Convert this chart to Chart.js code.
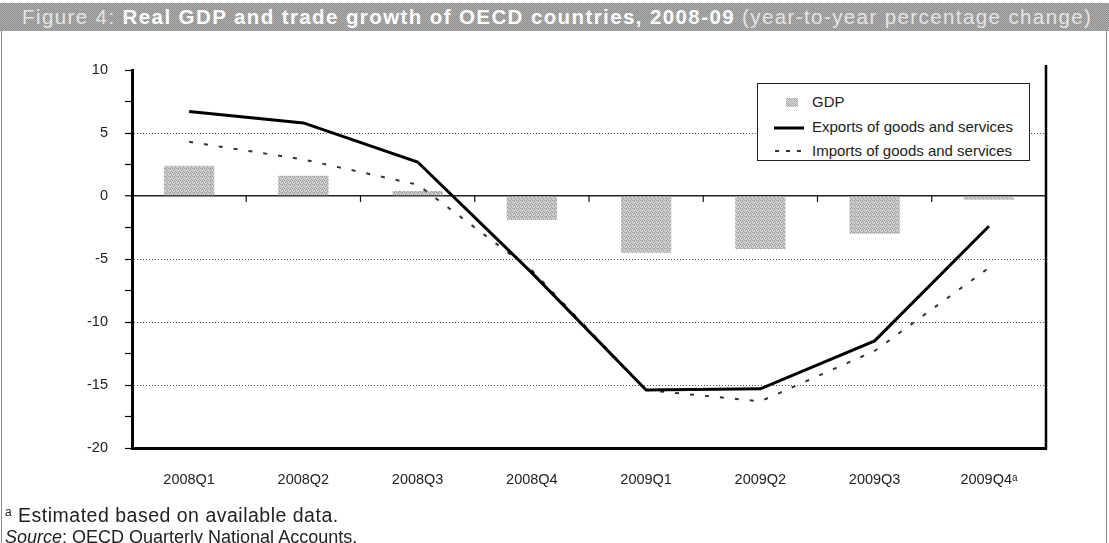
<!DOCTYPE html>
<html>
<head>
<meta charset="utf-8">
<script src="https://cdn.jsdelivr.net/npm/chart.js@4.4.1/dist/chart.umd.min.js"></script>
<style>
  html, body { margin:0; padding:0; background:#fff; }
  body { width:1109px; height:543px; position:relative; overflow:hidden; font-family:"Liberation Sans", Arial, sans-serif; }
  #titlebar { position:absolute; left:0; top:3px; width:1109px; height:28px;
    background: repeating-conic-gradient(#8c8c8c 0 25%, #b2b2b2 0 50%) 0 0/2px 2px;
    box-sizing:border-box; padding-left:22px; line-height:28px; font-size:20.5px; letter-spacing:1.4px; white-space:nowrap; }
  #titlebar .lt { color:#e4e4e4; }
  #titlebar .bd { color:#fff; font-weight:bold; }
  #frame { position:absolute; left:1px; top:31px; width:1106px; height:520px; border-left:1.5px solid #8a8a8a; border-right:1.5px solid #8a8a8a; box-sizing:border-box; }
  #chartwrap { position:absolute; left:0; top:0; width:1109px; height:543px; }
  #legend { position:absolute; left:757px; top:83px; width:273px; height:78px; border:1px solid #222; background:#fff; box-sizing:border-box; font-size:15px; color:#222; }
  .li { position:absolute; left:54px; height:20px; line-height:20px; white-space:nowrap; }
  .sw { position:absolute; }
  #notes { position:absolute; left:5px; top:501px; color:#222; line-height:22px; white-space:nowrap; }
  #notes .n1 { font-size:19.5px; letter-spacing:0.5px; }
  #notes .n2 { font-size:18px; letter-spacing:0px; }
  #notes sup { font-size:12px; vertical-align:6px; }
</style>
</head>
<body>
<div id="titlebar"><span class="lt">Figure 4: </span><span class="bd">Real GDP and trade growth of OECD countries, 2008-09</span><span class="lt"> (year-to-year percentage change)</span></div>
<div id="frame"></div>
<div id="chartwrap"><canvas id="c" width="1109" height="543"></canvas></div>
<div id="legend">
  <div class="sw" style="left:28px; top:14px; width:12px; height:9px; background: repeating-conic-gradient(#aaaaaa 0 25%, #dcdcdc 0 50%) 0 0/2px 2px;"></div>
  <div class="li" style="top:8px;">GDP</div>
  <svg class="sw" style="left:15px; top:41px;" width="32" height="6"><line x1="1" y1="3" x2="31" y2="3" stroke="#000" stroke-width="3"/></svg>
  <div class="li" style="top:33px;">Exports of goods and services</div>
  <svg class="sw" style="left:15px; top:64px;" width="32" height="6"><line x1="2" y1="3" x2="31" y2="3" stroke="#333" stroke-width="2" stroke-dasharray="4,7"/></svg>
  <div class="li" style="top:57px;">Imports of goods and services</div>
</div>
<div id="notes">
  <div class="n1"><sup>a</sup> Estimated based on available data.</div>
  <div class="n2"><i>Source</i>: OECD Quarterly National Accounts.</div>
</div>
<script>
const categories = ["2008Q1","2008Q2","2008Q3","2008Q4","2009Q1","2009Q2","2009Q3","2009Q4\u1d43"];
const gdp     = [2.4, 1.6, 0.4, -1.9, -4.5, -4.2, -3.0, -0.3];
const exportsGS = [6.7, 5.8, 2.7, -6.1, -15.4, -15.3, -11.5, -2.4];
const importsGS = [4.3, 2.9, 0.9, -5.9, -15.4, -16.3, -12.3, -5.7];
const yTicks = { min: -20, max: 10, step: 2.5 };

function makePattern() {
  const p = document.createElement('canvas');
  p.width = 4; p.height = 4;
  const g = p.getContext('2d');
  g.fillStyle = '#d6d6d6'; g.fillRect(0,0,4,4);
  g.fillStyle = '#a0a0a0';
  [[0,0],[2,1],[1,2],[3,3],[2,0]].forEach(([x,y]) => g.fillRect(x,y,1,1));
  g.fillStyle = '#bcbcbc';
  [[1,0],[3,1],[0,3],[3,2]].forEach(([x,y]) => g.fillRect(x,y,1,1));
  return g.createPattern(p, 'repeat');
}

const ctx = document.getElementById('c').getContext('2d');

const decor = {
  id: 'decor',
  afterDraw(chart) {
    const { ctx, chartArea, scales: { x, y } } = chart;
    ctx.save();
    ctx.strokeStyle = '#000'; ctx.lineWidth = 2.5;
    ctx.beginPath(); ctx.moveTo(chartArea.right, chartArea.top - 5); ctx.lineTo(chartArea.right, chartArea.bottom + 1); ctx.stroke();
    const y0 = y.getPixelForValue(0);
    ctx.lineWidth = 1.2; ctx.strokeStyle = '#111';
    for (let i = 0; i < categories.length - 1; i++) {
      const xb = (x.getPixelForValue(i) + x.getPixelForValue(i + 1)) / 2;
      ctx.beginPath(); ctx.moveTo(xb, y0); ctx.lineTo(xb, y0 + 6); ctx.stroke();
    }
    ctx.restore();
  }
};

new Chart(ctx, {
  data: {
    labels: categories,
    datasets: [
      { type: 'line', label: 'Exports of goods and services', data: exportsGS, borderColor: '#000', borderWidth: 3,
        pointRadius: 0, tension: 0, fill: false, order: 1 },
      { type: 'line', label: 'Imports of goods and services', data: importsGS, borderColor: '#333', borderWidth: 2,
        borderDash: [4, 11], pointRadius: 0, tension: 0, fill: false, order: 2 },
      { type: 'bar', label: 'GDP', data: gdp, backgroundColor: makePattern(), borderWidth: 0,
        barPercentage: 0.44, categoryPercentage: 1.0, order: 3 }
    ]
  },
  options: {
    responsive: false,
    animation: false,
    layout: { padding: { left: 0, top: 70, right: 63, bottom: 0 } },
    plugins: { legend: { display: false }, tooltip: { enabled: false }, title: { display: false } },
    scales: {
      x: {
        offset: true,
        afterFit: s => { s.height = 95; },
        grid: { display: false, drawTicks: false },
        border: { display: true, color: '#000', width: 3 },
        ticks: { padding: 23, color: '#222', font: { family: '"Liberation Sans", Arial, sans-serif', size: 14.5 }, maxRotation: 0, autoSkip: false }
      },
      y: {
        min: yTicks.min, max: yTicks.max,
        afterFit: s => { s.width = 132; },
        ticks: { stepSize: yTicks.step, padding: 17, color: '#222',
          font: { family: '"Liberation Sans", Arial, sans-serif', size: 14.5 },
          callback: v => (Math.abs(v % 5) < 1e-9 ? String(v) : '') },
        grid: {
          drawTicks: true, tickLength: 7, tickColor: '#000', tickWidth: 1.2,
          color: c => {
            const v = c.tick ? c.tick.value : null;
            if (v === 0) return '#222';
            if (v === 5 || v === -5 || v === -10 || v === -15) return '#555';
            return 'rgba(0,0,0,0)';
          },
          lineWidth: c => (c.tick && c.tick.value === 0 ? 1.6 : 1)
        },
        border: { display: true, color: '#000', width: 3,
          dash: c => (c.tick && c.tick.value === 0 ? [] : [1, 2]) }
      }
    }
  },
  plugins: [decor]
});
</script>
</body>
</html>
